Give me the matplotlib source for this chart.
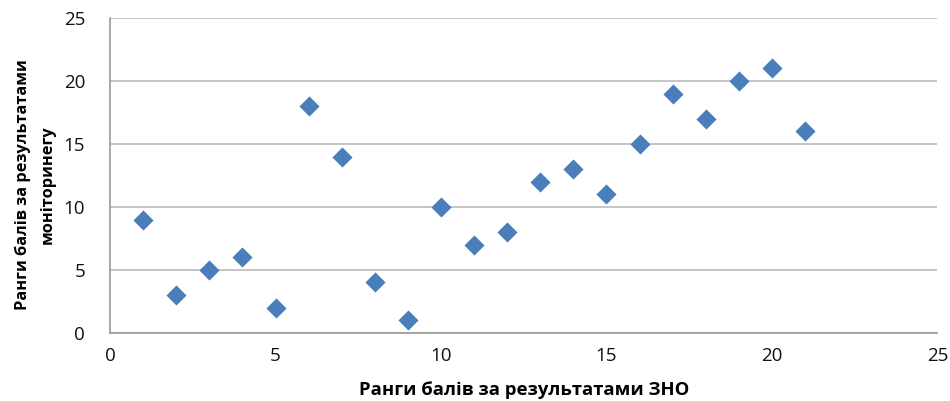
import matplotlib
matplotlib.use('Agg')
import matplotlib.pyplot as plt

zno_rank = [1, 2, 3, 4, 5, 6, 7, 8, 9, 10, 11, 12, 13, 14, 15, 16, 17, 18, 19, 20, 21]
monitor_rank = [9, 3, 5, 6, 2, 18, 14, 4, 1, 10, 7, 8, 12, 13, 11, 15, 19, 17, 20, 21, 16]
ticks = [0, 5, 10, 15, 20, 25]

plt.rcParams['font.family'] = ['Open Sans', 'DejaVu Sans']

fig = plt.figure(figsize=(9.5, 4.01), dpi=100)
ax = fig.add_axes([0.1158, 0.170, 0.871, 0.785])

ax.scatter(zno_rank, monitor_rank, marker='D', s=105, color='#4A7EBB', zorder=3, linewidths=0)

ax.set_xlim(0, 25)
ax.set_ylim(0, 25)
ax.set_xticks(ticks)
ax.set_yticks(ticks)
ax.tick_params(length=0, labelsize=13.5, colors='#111111')
ax.tick_params(axis='x', pad=10)
ax.tick_params(axis='y', pad=18)
ax.grid(axis='y', color='#BBBBBB', linewidth=1.2)
ax.set_axisbelow(True)
for side in ['top', 'right']:
  ax.spines[side].set_visible(False)
for side in ['left', 'bottom']:
  ax.spines[side].set_color('#999999')
  ax.spines[side].set_linewidth(1.2)

ax.set_xlabel('Ранги балів за результатами ЗНО', fontsize=13.3, fontweight='bold', labelpad=12)
ax.set_ylabel('Ранги балів за результатами\nмоніторинегу', fontsize=11.8, fontweight='bold', linespacing=1.7)
ax.yaxis.set_label_coords(-0.066, 0.47)

fig.savefig('out.png', dpi=100)
